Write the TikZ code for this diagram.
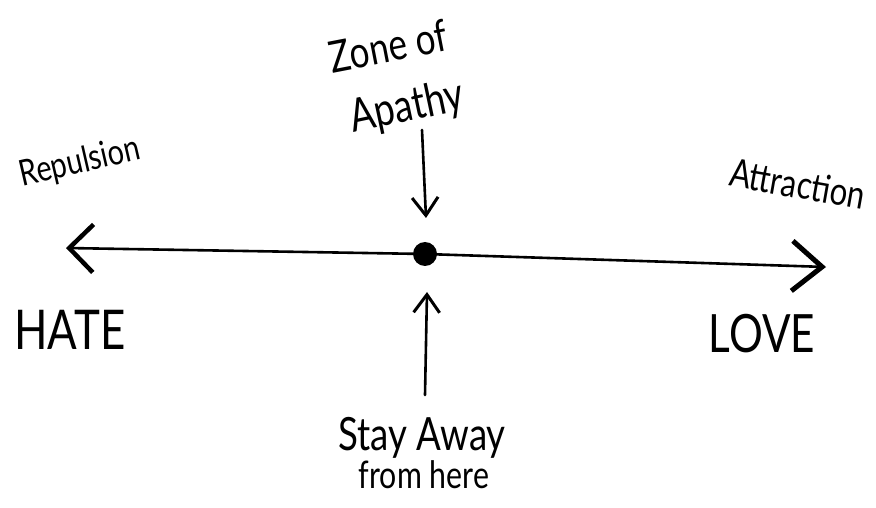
\documentclass[tikz,border=0pt]{standalone}
\usepackage{fontspec}
\newfontfamily\hand[FakeStretch=0.8]{Lato}
\usetikzlibrary{arrows.meta}
\begin{document}
\begin{tikzpicture}[x=1bp,y=-1bp,
  lbl/.style={font=\hand, inner sep=0pt, text=black},
  axis/.style={line width=2.6bp, line cap=round,
    arrows={Straight Barb[length=24bp,width=48bp,line width=4.5bp]-Straight Barb[length=30bp,width=50bp,line width=5bp]}},
  pointer/.style={line width=2.6bp, line cap=round,
    -{Straight Barb[length=18bp,width=26bp,line width=3bp]}}]
\useasboundingbox (0,0) rectangle (876,508);
% axis
\coordinate (L) at (66,248);
\coordinate (R) at (826,267);
\node[circle, fill=black, minimum size=24bp, inner sep=0pt] (dot) at (425,254) {};
\draw[axis] (L) -- (dot.center) -- (R);
% labels
\node[lbl, font=\hand\fontsize{55}{55}\selectfont] (hate) at (70,330) {HATE};
\node[lbl, font=\hand\fontsize{53}{53}\selectfont] (love) at (762,334) {LOVE};
\node[lbl, font=\hand\fontsize{36}{36}\selectfont, rotate=13] (rep) at (80,163) {Repulsion};
\node[lbl, font=\hand\fontsize{39}{39}\selectfont, rotate=-10] (att) at (798,184) {Attraction};
\node[lbl, font=\hand\fontsize{44}{44}\selectfont, rotate=11, anchor=base] (zone) at (391,62) {Zone of};
\node[lbl, font=\hand\fontsize{46}{46}\selectfont, rotate=12, anchor=base] (apathy) at (410,121) {Apathy};
\node[lbl, font=\hand\fontsize{46}{46}\selectfont, anchor=base] (stay) at (422,450) {Stay Away};
\node[lbl, font=\hand\fontsize{38}{38}\selectfont, anchor=base] (from) at (424,488) {from here};
% pointers
\coordinate (dtop) at (422,130);
\coordinate (dtip) at (426,218);
\coordinate (ubot) at (425,395);
\coordinate (utip) at (427,292);
\draw[pointer] (dtop) -- (dtip);
\draw[pointer] (ubot) -- (utip);
\end{tikzpicture}
\end{document}
